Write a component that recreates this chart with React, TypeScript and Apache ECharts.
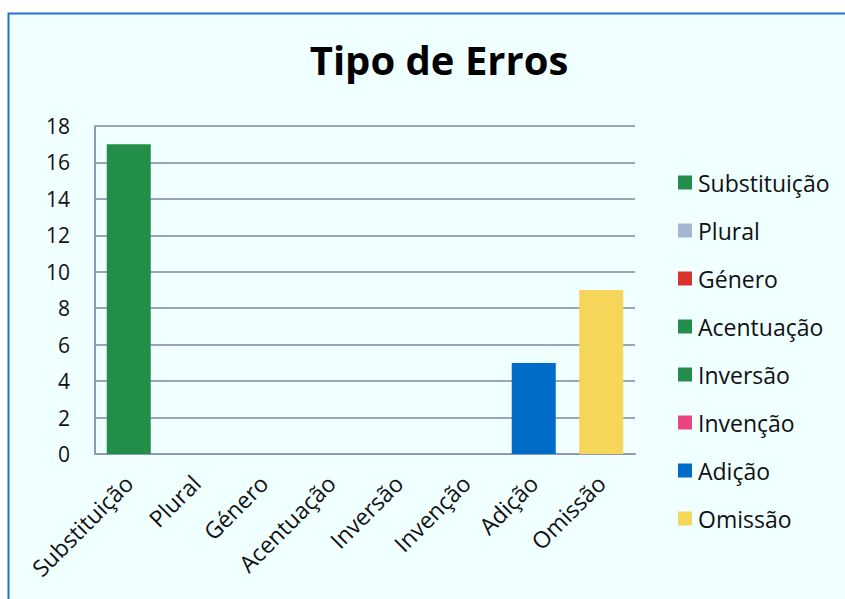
import React, { useEffect, useRef } from "react";
import * as echarts from "echarts";

const categories = ["Substituição", "Plural", "Género", "Acentuação", "Inversão", "Invenção", "Adição", "Omissão"];
const values = [17, 0, 0, 0, 0, 0, 5, 9];
const colors = ["#238E4A", "#A6B6D2", "#D9332C", "#238E4A", "#238E4A", "#EA4580", "#006CC8", "#F5D55A"];
const yTicks = { min: 0, max: 18, interval: 2 };

const FONT = "Open Sans";

export default function App() {
  const ref = useRef<HTMLDivElement>(null);
  useEffect(() => {
    if (!ref.current) return;
    const chart = echarts.init(ref.current, undefined, { renderer: "svg" });
    const series = categories.map((name, i) => ({
      name,
      type: "bar",
      stack: "total",
      barWidth: 44,
      itemStyle: { color: colors[i] },
      data: categories.map((_, j) => (j === i ? values[i] : null)),
    }));
    chart.setOption({
      animation: false,
      backgroundColor: "#ffffff",
      graphic: [
        {
          type: "rect",
          z: -10,
          shape: { x: 8.5, y: 13.5, width: 900, height: 700 },
          style: { fill: "#F0FFFF", stroke: "#1E73D0", lineWidth: 2 },
        },
      ],
      title: {
        text: "Tipo de Erros",
        left: 434,
        textAlign: "center",
        top: 34,
        textStyle: { fontFamily: FONT, fontWeight: "bold", fontSize: 40, color: "#000" },
      },
      legend: {
        orient: "vertical",
        left: 673,
        top: 166,
        itemWidth: 14,
        itemHeight: 14,
        itemGap: 25,
        icon: "rect",
        textStyle: { fontFamily: FONT, fontSize: 23, color: "#111", lineHeight: 22, padding: [0, 0, 0, 1] },
        data: categories,
      },
      grid: { left: 95, right: 210, top: 126, bottom: 145, containLabel: false },
      xAxis: {
        type: "category",
        data: categories,
        axisLine: { lineStyle: { color: "#8E9BB2", width: 2 } },
        axisTick: { show: false },
        axisLabel: { rotate: 45, fontFamily: FONT, fontSize: 23, color: "#111", margin: 25, interval: 0 },
      },
      yAxis: {
        type: "value",
        min: yTicks.min,
        max: yTicks.max,
        interval: yTicks.interval,
        axisLine: { show: true, lineStyle: { color: "#8E9BB2", width: 2 } },
        axisTick: { show: false },
        splitLine: { lineStyle: { color: "#9AA6B8", width: 2 } },
        axisLabel: { fontFamily: FONT, fontSize: 21, color: "#111", margin: 25 },
      },
      series,
    });
    return () => chart.dispose();
  }, []);
  return <div ref={ref} style={{ position: "fixed", left: 0, top: 0, width: 845, height: 599 }} />;
}
